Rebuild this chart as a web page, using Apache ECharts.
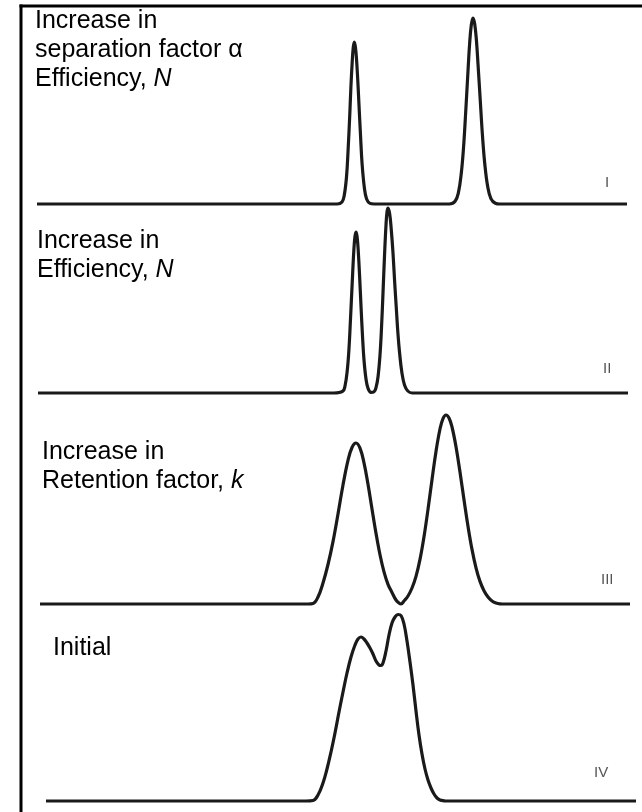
<!DOCTYPE html>
<html>
<head>
<meta charset="utf-8">
<script src="https://cdn.jsdelivr.net/npm/echarts@6/dist/echarts.min.js"></script>
<style>
  html, body { margin: 0; padding: 0; background: #ffffff; }
  #chart { width: 642px; height: 812px; }
</style>
</head>
<body>
<div id="chart"></div>
<script>
// Panel I: increase in separation factor and efficiency
const timeI = [0, 30.02, 30.50, 30.72, 30.95, 31.11, 31.28, 31.39, 31.51, 31.62, 31.73, 31.84, 31.95, 32.07, 32.18, 32.35, 32.51, 32.74, 32.96, 33.30, 33.71,
  41.25, 41.81, 42.14, 42.42, 42.65, 42.87, 43.10, 43.26, 43.43, 43.6, 43.77, 43.94, 44.10, 44.33, 44.55, 44.78, 45.06, 45.39, 45.84, 46.29, 59];
const signalI = [0, 0, 1, 4.2, 13.5, 27, 45, 58.5, 70, 78, 81, 78.5, 72.5, 62.5, 51.5, 34.5, 20, 8, 2.5, 0.3, 0,
  0, 1.35, 5.7, 15, 28, 46, 66.5, 80, 89.5, 93, 90, 82, 70, 51.5, 34, 20, 9, 2.7, 0.35, 0, 0];

// Panel II: increase in efficiency
const timeII = [0, 29.6, 30.48, 30.7, 30.92, 31.09, 31.25, 31.42, 31.58, 31.69, 31.8, 31.9, 32.0, 32.15, 32.3, 32.45, 32.6, 32.8, 33.0, 33.3, 33.6,
  33.8, 34.0, 34.2, 34.35, 34.5, 34.65, 34.8, 34.9, 35.0, 35.17, 35.33, 35.50, 35.66, 35.83, 35.99, 36.16, 36.38, 36.65, 36.98, 37.42, 59];
const signalII = [0, 0, 0.9, 3.5, 11, 21.5, 37, 55, 71, 78, 80.5, 78.5, 73, 59.5, 43.5, 28.5, 16.5, 7, 2.35, 0.3, 0.6,
  2.65, 8, 19, 32.5, 50, 68.5, 84, 90.5, 92.5, 89.5, 81.5, 70, 56, 42.5, 30, 20, 10.5, 4, 1, 0, 0];

// Panel III: increase in retention factor
const timeIII = [0, 26.8, 27.3, 27.8, 28.3, 28.8, 29.3, 29.8, 30.3, 30.8, 31.2, 31.6, 32.0, 32.4, 32.8, 33.2, 33.6, 34.0, 34.4, 34.8, 35.2, 35.6, 35.9, 36.1,
  36.4, 36.8, 37.2, 37.6, 38.0, 38.4, 38.8, 39.2, 39.6, 40.0, 40.3, 40.6, 40.9, 41.2, 41.6, 42.0, 42.4, 42.8, 43.2, 43.6, 44.0, 44.4, 44.8, 45.2, 45.6, 46.0, 46.5, 59];
const signalIII = [0, 0, 0.25, 3.5, 10.5, 19.75, 31.2, 45, 59.5, 71.8, 78.25, 80.5, 77.9, 70.6, 59.9, 47.55, 35.4, 24.65, 16.1, 9.85, 5.8, 2, 0.5, 0,
  1.5, 4, 8, 13.8, 22.3, 33.6, 47.3, 62.15, 76.3, 87.5, 92.7, 94.5, 93, 88.5, 78.65, 65.95, 52.1, 38.85, 27.3, 18.1, 11.3, 6.65, 3.5, 1.5, 0.5, 0.1, 0, 0];

// Panel IV: initial
const timeIV = [0, 26.0, 26.7, 27.2, 27.7, 28.1, 28.5, 28.9, 29.3, 29.7, 30.1, 30.5, 30.9, 31.2, 31.5, 31.8, 32.1, 32.4, 32.7, 33.0, 33.3, 33.5, 33.7,
  34.0, 34.3, 34.6, 34.9, 35.2, 35.5, 35.8, 36.1, 36.4, 36.7, 37.0, 37.3, 37.6, 37.9, 38.2, 38.5, 38.8, 39.1, 39.4, 39.8, 40.2, 59];
const signalIV = [0, 0, 0.25, 3, 9, 16, 24.5, 34, 44.5, 54.5, 64, 72, 78, 81, 82, 81, 79, 76.5, 73.5, 70, 68, 67.75, 69,
  75, 83, 89, 92, 93.25, 92.75, 88.5, 80, 69.5, 58, 45, 33, 23.5, 16, 10.5, 6.5, 3.5, 1.5, 0.5, 0.1, 0, 0];

const panelLabels = ['I', 'II', 'III', 'IV'];
const panelTitles = [
  'Increase in\nseparation factor α\nEfficiency, {i|N}',
  'Increase in\nEfficiency, {i|N}',
  'Increase in\nRetention factor, {i|k}',
  'Initial'
];

const panels = [
  { t: timeI, s: signalI, grid: { left: 37, top: 14 }, title: { left: 35, top: 6.5 }, roman: { left: 605, top: 175 } },
  { t: timeII, s: signalII, grid: { left: 38, top: 203 }, title: { left: 37, top: 227 }, roman: { left: 603, top: 361 } },
  { t: timeIII, s: signalIII, grid: { left: 40, top: 414 }, title: { left: 42, top: 438 }, roman: { left: 601, top: 572 } },
  { t: timeIV, s: signalIV, grid: { left: 46, top: 611 }, title: { left: 53, top: 634 }, roman: { left: 594, top: 765 } }
];

const chart = echarts.init(document.getElementById('chart'), null, { renderer: 'canvas' });

const grids = [], xAxes = [], yAxes = [], series = [], titles = [];
panels.forEach((p, i) => {
  grids.push({ left: p.grid.left, top: p.grid.top, width: 590, height: 190, containLabel: false });
  xAxes.push({ type: 'value', gridIndex: i, min: 0, max: 59, show: false });
  yAxes.push({ type: 'value', gridIndex: i, min: 0, max: 95, show: false });
  series.push({
    type: 'line',
    xAxisIndex: i,
    yAxisIndex: i,
    data: p.t.map((x, j) => [x, p.s[j]]),
    smooth: 0.4,
    symbol: 'none',
    clip: false,
    lineStyle: { color: '#1a1a1a', width: 3.2 }
  });
  titles.push({
    text: panelTitles[i],
    left: p.title.left,
    top: p.title.top,
    padding: 0,
    textStyle: {
      fontFamily: 'Liberation Sans, Arial, sans-serif',
      fontSize: 25,
      fontWeight: 'normal',
      color: '#000',
      lineHeight: 29,
      rich: {
        i: { fontFamily: 'Liberation Sans, Arial, sans-serif', fontSize: 25, fontStyle: 'italic', color: '#000', lineHeight: 29 }
      }
    }
  });
  titles.push({
    text: panelLabels[i],
    left: p.roman.left,
    top: p.roman.top,
    padding: 0,
    textStyle: {
      fontFamily: 'Liberation Sans, Arial, sans-serif',
      fontSize: 15,
      fontWeight: 'normal',
      color: '#555'
    }
  });
});

chart.setOption({
  animation: false,
  backgroundColor: '#ffffff',
  title: titles,
  grid: grids,
  xAxis: xAxes,
  yAxis: yAxes,
  series: series,
  graphic: [
    { type: 'line', shape: { x1: 19.5, y1: 6, x2: 642, y2: 6 }, style: { stroke: '#000', lineWidth: 3 } },
    { type: 'line', shape: { x1: 21, y1: 4.5, x2: 21, y2: 812 }, style: { stroke: '#000', lineWidth: 3 } }
  ]
});
</script>
</body>
</html>
